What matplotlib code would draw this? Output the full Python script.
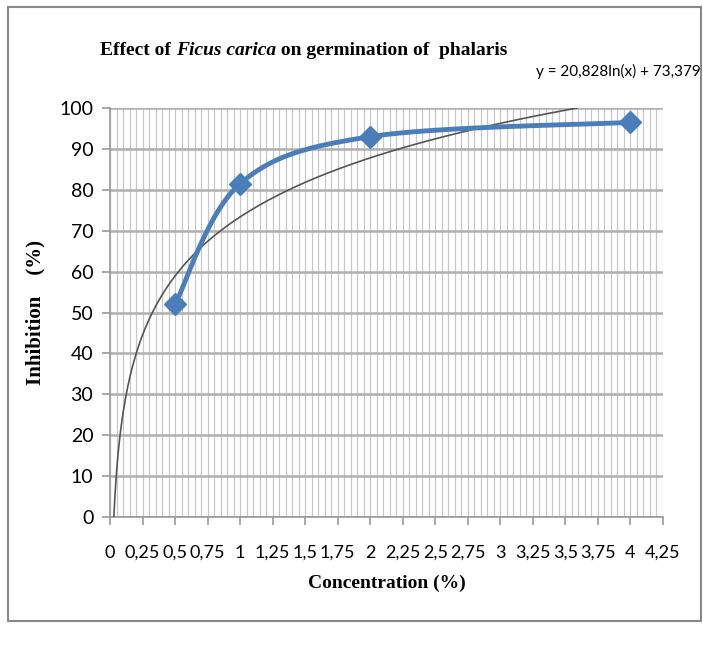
import numpy as np
import matplotlib.pyplot as plt
from matplotlib.patches import Rectangle

# data
conc = [0.5, 1, 2, 4]
inhibition = [52, 81.5, 93, 96.5]
trend_a, trend_b = 20.828, 73.379
x_ticks = np.arange(0, 4.26, 0.25)
x_labels = ['0', '0,25', '0,5', '0,75', '1', '1,25', '1,5', '1,75', '2',
            '2,25', '2,5', '2,75', '3', '3,25', '3,5', '3,75', '4', '4,25']
y_ticks = list(range(0, 101, 10))


def smooth(xs, ys, n=40, t=0.5):
    # catmull-rom style smoothing, like Excel's smoothed line
    xs, ys = np.asarray(xs, float), np.asarray(ys, float)
    px = np.r_[xs[0], xs, xs[-1]]
    py = np.r_[ys[0], ys, ys[-1]]
    ox, oy = [], []
    for i in range(1, len(px) - 2):
        p0, p1, p2, p3 = (np.array([px[j], py[j]]) for j in (i - 1, i, i + 1, i + 2))
        c1 = p1 + (p2 - p0) * t / 3
        c2 = p2 - (p3 - p1) * t / 3
        s = np.linspace(0, 1, n)[:, None]
        b = (1 - s) ** 3 * p1 + 3 * (1 - s) ** 2 * s * c1 + 3 * (1 - s) * s ** 2 * c2 + s ** 3 * p2
        ox.extend(b[:, 0]); oy.extend(b[:, 1])
    return ox, oy


fig = plt.figure(figsize=(7.03, 6.5), dpi=100)
ax = fig.add_axes([0.1565, 0.2046, 0.7865, 0.6292])

tick_font = ['Lato', 'DejaVu Sans']
serif = 'Liberation Serif'

# trend line
x0 = np.exp(-trend_b / trend_a)
x1 = np.exp((100 - trend_b) / trend_a)
tx = np.linspace(x0, x1, 400)
ax.plot(tx, trend_a * np.log(tx) + trend_b, color='#555555', lw=1.2, zorder=3)

# data series
sx, sy = smooth(conc, inhibition)
ax.plot(sx, sy, color='#4a7ebb', lw=3.5, zorder=4, solid_capstyle='round')
ax.plot(conc, inhibition, 'D', color='#4a7ebb', ms=11, zorder=5)

ax.set_xlim(0, 4.25)
ax.set_ylim(0, 100)
ax.set_xticks(x_ticks)
ax.set_xticklabels(x_labels, fontsize=13, family=tick_font)
ax.set_xticks(np.arange(0, 4.2501, 0.05), minor=True)
ax.set_yticks(y_ticks)
ax.set_yticklabels([str(v) for v in y_ticks], fontsize=14, family=tick_font)

ax.grid(axis='x', which='both', color='#c8c8c8', lw=0.9)
ax.grid(axis='y', which='major', color='#b0b0b0', lw=1.8)
ax.set_axisbelow(True)
ax.tick_params(axis='x', which='minor', length=0)
ax.tick_params(axis='both', which='major', length=6, color='#999999', width=1.2)
ax.tick_params(axis='y', which='major', pad=6)
ax.tick_params(axis='x', which='major', pad=14)
for s in ['top', 'right']:
    ax.spines[s].set_visible(False)
for s in ['left', 'bottom']:
    ax.spines[s].set_color('#999999')
    ax.spines[s].set_linewidth(1.2)

ax.set_xlabel('Concentration (%)', fontsize=14, fontweight='bold', family=serif, labelpad=10)
ax.set_ylabel('Inhibition    (%)', fontsize=15, fontweight='bold', family=serif, labelpad=10)

# title built from parts so the species name is italic
parts = [('Effect of ', 'normal'), ('Ficus carica', 'italic'), (' on germination of  phalaris', 'normal')]
renderer = fig.canvas.get_renderer()
xpos = 0.142
for txt, style in parts:
    t = fig.text(xpos, 0.915, txt, fontsize=14, fontweight='bold', style=style, family=serif)
    bb = t.get_window_extent(renderer=renderer)
    xpos += bb.width / fig.bbox.width

fig.text(0.997, 0.883, 'y = 20,828ln(x) + 73,379', fontsize=11, family=tick_font, ha='right')

fig.patches.append(Rectangle((0.012, 0.045), 0.985, 0.945, transform=fig.transFigure,
                             fill=False, edgecolor='#888888', lw=1.5))

fig.savefig('out.png', dpi=100)
